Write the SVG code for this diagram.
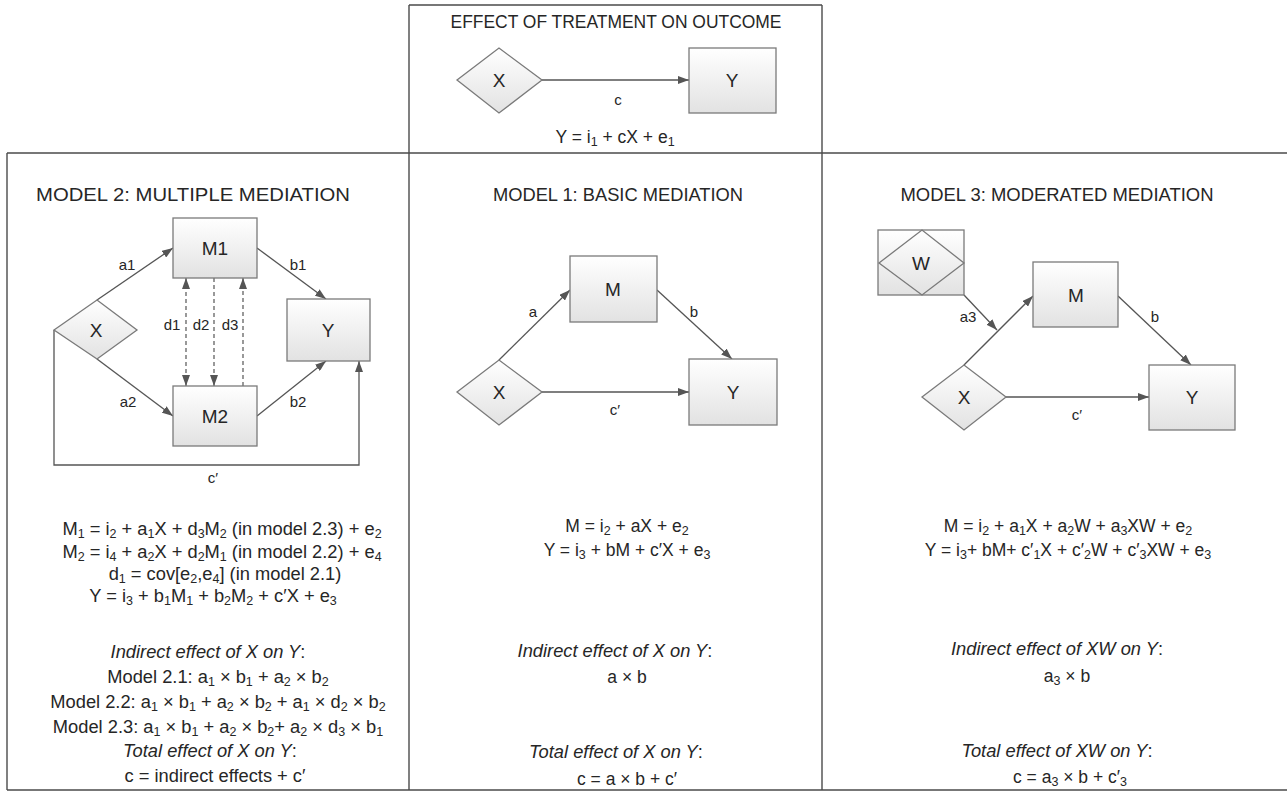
<svg xmlns="http://www.w3.org/2000/svg" width="1287" height="792" viewBox="0 0 1287 792">
<style>
text{font-family:"Liberation Sans",Arial,sans-serif;fill:#262626}
.title{font-size:19px;text-anchor:middle}
.lbl{font-size:19px;text-anchor:middle}
.el{font-size:15px;text-anchor:middle}
.eq{font-size:17.5px;text-anchor:middle}
.big{font-size:18.3px}
.it{font-style:italic}
.s{font-size:12.5px;baseline-shift:-2.5px}
.node{fill:url(#g);stroke:#7a7a7a;stroke-width:1.3}
.frame{stroke:#4a4a4a;stroke-width:1.4;fill:none}
.c{stroke:#555;stroke-width:1.3;fill:none;marker-end:url(#ah)}
.d{stroke:#555;stroke-width:1.2;fill:none;stroke-dasharray:4 3}
</style>
<defs>
<linearGradient id="g" x1="0" y1="0" x2="0" y2="1">
<stop offset="0" stop-color="#ffffff"/>
<stop offset="1" stop-color="#e2e2e2"/>
</linearGradient>
<marker id="ah" markerUnits="userSpaceOnUse" markerWidth="11" markerHeight="8" refX="11" refY="4" orient="auto-start-reverse">
<path d="M0,0 L11,4 L0,8 z" fill="#555"/>
</marker>
</defs>

<g id="frame">
<line class="frame" x1="409" y1="5" x2="822" y2="5"/>
<line class="frame" x1="7" y1="153" x2="1287" y2="153"/>
<line class="frame" x1="7" y1="153" x2="7" y2="790"/>
<line class="frame" x1="409" y1="5" x2="409" y2="790"/>
<line class="frame" x1="822" y1="5" x2="822" y2="790"/>
<line class="frame" x1="7" y1="790" x2="1287" y2="790"/>
</g>

<g id="titles">
<text class="title" x="616" y="28" textLength="331" lengthAdjust="spacingAndGlyphs">EFFECT OF TREATMENT ON OUTCOME</text>
<text class="title" x="193" y="201" textLength="314" lengthAdjust="spacingAndGlyphs">MODEL 2: MULTIPLE MEDIATION</text>
<text class="title" x="618" y="201" textLength="250" lengthAdjust="spacingAndGlyphs">MODEL 1: BASIC MEDIATION</text>
<text class="title" x="1057" y="201" textLength="313" lengthAdjust="spacingAndGlyphs">MODEL 3: MODERATED MEDIATION</text>
</g>

<g id="connectors">
<line class="c" x1="542" y1="80" x2="689" y2="80"/>
<line class="c" x1="97" y1="300" x2="173" y2="248"/>
<line class="c" x1="97" y1="359" x2="173" y2="416"/>
<line class="c" x1="257" y1="248" x2="326" y2="299"/>
<line class="c" x1="257" y1="416" x2="326" y2="361"/>
<polyline class="c" points="54,330 54,465 359,465 359,361"/>
<line class="d" x1="186" y1="278" x2="186" y2="386" marker-start="url(#ah)" marker-end="url(#ah)"/>
<line class="d" x1="214" y1="278" x2="214" y2="386" marker-end="url(#ah)"/>
<line class="d" x1="243" y1="386" x2="243" y2="278" marker-end="url(#ah)"/>
<line class="c" x1="499" y1="360" x2="570" y2="290"/>
<line class="c" x1="657" y1="290" x2="732" y2="359"/>
<line class="c" x1="542" y1="392" x2="689" y2="392"/>
<line class="c" x1="964" y1="365" x2="1033" y2="296"/>
<line class="c" x1="964" y1="295" x2="997" y2="330"/>
<line class="c" x1="1118" y1="296" x2="1191" y2="365"/>
<line class="c" x1="1006" y1="397" x2="1149" y2="397"/>
</g>

<g id="edge-labels">
<text class="el" x="618" y="105">c</text>
<text class="el" x="127" y="270">a1</text>
<text class="el" x="128" y="407">a2</text>
<text class="el" x="298" y="270">b1</text>
<text class="el" x="298" y="407">b2</text>
<text class="el" x="172" y="330">d1</text>
<text class="el" x="201" y="330">d2</text>
<text class="el" x="230" y="330">d3</text>
<text class="el" x="213" y="483">c′</text>
<text class="el" x="533" y="317">a</text>
<text class="el" x="694" y="317">b</text>
<text class="el" x="615" y="415">c′</text>
<text class="el" x="968" y="322">a3</text>
<text class="el" x="1155" y="322">b</text>
<text class="el" x="1077" y="420">c′</text>
</g>

<g id="top-X"><polygon class="node" points="457,80 499,48 542,80 499,113"/><text class="lbl" x="499" y="87">X</text></g>
<g id="top-Y"><rect class="node" x="689" y="48" width="87" height="65"/><text class="lbl" x="732" y="87">Y</text></g>

<g id="m2-X"><polygon class="node" points="54,330 97,300 137,330 97,359"/><text class="lbl" x="96" y="337">X</text></g>
<g id="m2-M1"><rect class="node" x="173" y="218" width="84" height="60"/><text class="lbl" x="215" y="255">M1</text></g>
<g id="m2-M2"><rect class="node" x="173" y="386" width="84" height="60"/><text class="lbl" x="215" y="423">M2</text></g>
<g id="m2-Y"><rect class="node" x="287" y="299" width="83" height="62"/><text class="lbl" x="328" y="337">Y</text></g>

<g id="m1-X"><polygon class="node" points="457,392 499,360 542,392 499,425"/><text class="lbl" x="499" y="399">X</text></g>
<g id="m1-M"><rect class="node" x="570" y="256" width="87" height="66"/><text class="lbl" x="613" y="296">M</text></g>
<g id="m1-Y"><rect class="node" x="689" y="359" width="88" height="66"/><text class="lbl" x="733" y="399">Y</text></g>

<g id="m3-W"><rect class="node" x="878" y="230" width="86" height="65"/><polygon fill="none" stroke="#7a7a7a" stroke-width="1.3" points="879,263 922,230 964,263 922,295"/><text class="lbl" x="921" y="270">W</text></g>
<g id="m3-X"><polygon class="node" points="922,397 964,365 1006,397 964,430"/><text class="lbl" x="964" y="404">X</text></g>
<g id="m3-M"><rect class="node" x="1033" y="262" width="85" height="65"/><text class="lbl" x="1076" y="302">M</text></g>
<g id="m3-Y"><rect class="node" x="1149" y="365" width="86" height="65"/><text class="lbl" x="1192" y="404">Y</text></g>

<g id="top-eq">
<text class="eq" x="615" y="143">Y = i<tspan class="s">1</tspan> + cX + e<tspan class="s">1</tspan></text>
</g>

<g id="m2-eq">
<text class="eq big" x="222" y="535">M<tspan class="s">1</tspan> = i<tspan class="s">2</tspan> + a<tspan class="s">1</tspan>X + d<tspan class="s">3</tspan>M<tspan class="s">2</tspan> (in model 2.3) + e<tspan class="s">2</tspan></text>
<text class="eq big" x="222" y="558">M<tspan class="s">2</tspan> = i<tspan class="s">4</tspan> + a<tspan class="s">2</tspan>X + d<tspan class="s">2</tspan>M<tspan class="s">1</tspan> (in model 2.2) + e<tspan class="s">4</tspan></text>
<text class="eq big" x="225" y="580">d<tspan class="s">1</tspan> = cov[e<tspan class="s">2</tspan>,e<tspan class="s">4</tspan>] (in model 2.1)</text>
<text class="eq big" x="213" y="602">Y = i<tspan class="s">3</tspan> + b<tspan class="s">1</tspan>M<tspan class="s">1</tspan> + b<tspan class="s">2</tspan>M<tspan class="s">2</tspan> + c′X + e<tspan class="s">3</tspan></text>
<text class="eq big" x="208" y="658"><tspan class="it">Indirect effect of X on Y</tspan>:</text>
<text class="eq big" x="218" y="683">Model 2.1: a<tspan class="s">1</tspan> × b<tspan class="s">1</tspan> + a<tspan class="s">2</tspan> × b<tspan class="s">2</tspan></text>
<text class="eq big" x="218" y="708">Model 2.2: a<tspan class="s">1</tspan> × b<tspan class="s">1</tspan> + a<tspan class="s">2</tspan> × b<tspan class="s">2</tspan> + a<tspan class="s">1</tspan> × d<tspan class="s">2</tspan> × b<tspan class="s">2</tspan></text>
<text class="eq big" x="218" y="733">Model 2.3: a<tspan class="s">1</tspan> × b<tspan class="s">1</tspan> + a<tspan class="s">2</tspan> × b<tspan class="s">2</tspan>+ a<tspan class="s">2</tspan> × d<tspan class="s">3</tspan> × b<tspan class="s">1</tspan></text>
<text class="eq big" x="210" y="757"><tspan class="it">Total effect of X on Y</tspan>:</text>
<text class="eq big" x="215" y="782">c = indirect effects + c′</text>
</g>

<g id="m1-eq">
<text class="eq" x="627" y="532">M = i<tspan class="s">2</tspan> + aX + e<tspan class="s">2</tspan></text>
<text class="eq" x="627" y="556">Y = i<tspan class="s">3</tspan> + bM + c′X + e<tspan class="s">3</tspan></text>
<text class="eq big" x="615" y="657"><tspan class="it">Indirect effect of X on Y</tspan>:</text>
<text class="eq" x="627" y="683">a × b</text>
<text class="eq big" x="616" y="758"><tspan class="it">Total effect of X on Y</tspan>:</text>
<text class="eq" x="627" y="785">c = a × b + c′</text>
</g>

<g id="m3-eq">
<text class="eq" x="1068" y="532">M = i<tspan class="s">2</tspan> + a<tspan class="s">1</tspan>X + a<tspan class="s">2</tspan>W + a<tspan class="s">3</tspan>XW + e<tspan class="s">2</tspan></text>
<text class="eq" x="1068" y="556">Y = i<tspan class="s">3</tspan>+ bM+ c′<tspan class="s">1</tspan>X + c′<tspan class="s">2</tspan>W + c′<tspan class="s">3</tspan>XW + e<tspan class="s">3</tspan></text>
<text class="eq big" x="1057" y="655"><tspan class="it">Indirect effect of XW on Y</tspan>:</text>
<text class="eq" x="1067" y="682">a<tspan class="s">3</tspan> × b</text>
<text class="eq big" x="1057" y="757"><tspan class="it">Total effect of XW on Y</tspan>:</text>
<text class="eq" x="1070" y="783">c = a<tspan class="s">3</tspan> × b + c′<tspan class="s">3</tspan></text>
</g>
</svg>
